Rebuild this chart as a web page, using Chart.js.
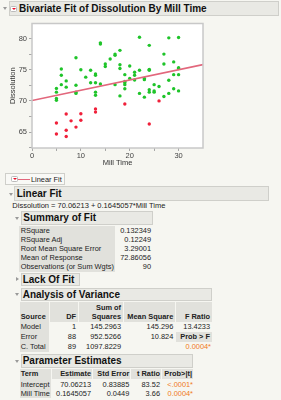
<!DOCTYPE html>
<html>
<head>
<meta charset="utf-8">
<script src="https://cdn.jsdelivr.net/npm/chart.js@4.4.1/dist/chart.umd.min.js"></script>
<style>
    body { margin: 0; width: 281px; height: 400px; background: #f6f6f1; font-family: "Liberation Sans", Arial, sans-serif; color: #222; position: relative; overflow: hidden; }
    .a { position: absolute; white-space: nowrap; font-size: 7.4px; line-height: 9px; }
    .box { position: absolute; background: #e9e9e4; border: 1px solid #cfcfca; box-sizing: border-box; }
    .hdr { position: absolute; white-space: nowrap; font-weight: bold; font-size: 10px; line-height: 12px; color: #111; }
    .g { position: absolute; background: #e1e1dc; }
    .tri-d { position: absolute; width: 0; height: 0; border-left: 2.5px solid transparent; border-right: 2.5px solid transparent; border-top: 3px solid #999; }
    .tri-r { position: absolute; width: 0; height: 0; border-top: 2.5px solid transparent; border-bottom: 2.5px solid transparent; border-left: 3px solid #999; }
    .menu { position: absolute; width: 7px; height: 6px; background: #fff; border: 1px solid #bbb; border-radius: 1.5px; box-sizing: border-box; }
    .menu::after { content: ''; position: absolute; left: 1px; top: 1.2px; border-left: 2px solid transparent; border-right: 2px solid transparent; border-top: 2.5px solid #e8102a; }
    canvas { position: absolute; left: 0; top: 17px; }
</style>
</head>
<body>
<canvas id="chart-fit" width="210" height="153"></canvas>
<script>
// Dissolution by Mill Time, colour by row state (green / red)
const greenMill = [5, 5, 5, 5, 6, 6, 6, 7, 7, 9, 9, 9, 9, 10, 11, 12, 12, 13, 13, 13, 13, 13,
    14, 14, 14, 15, 15, 16, 17, 17, 17, 18, 18, 18, 18, 19, 19, 19, 19, 19, 20, 20, 21, 21, 21,
    22, 22, 22, 23, 23, 23, 24, 24, 24, 24, 24, 25, 25, 25, 26, 27, 27, 27, 28, 28, 28,
    29, 29, 29, 30, 30, 30, 30, 30];
const greenDiss = [72.0, 71.4, 70.4, 70.1, 75.1, 74.1, 72.6, 73.2, 72.2, 76.9, 72.5, 71.4, 71.2, 75.0, 73.8, 74.9, 72.9, 74.3, 74.1, 72.9, 71.4, 70.9,
    79.3, 79.1, 72.7, 75.9, 75.5, 76.7, 77.5, 77.3, 72.6, 78.1, 75.8, 75.2, 70.8, 74.2, 73.1, 72.9, 72.6, 71.95, 75.6, 73.6, 74.6, 74.1, 73.35,
    80.2, 74.9, 71.2, 73.6, 73.4, 70.6, 78.9, 75.05, 74.9, 71.8, 71.4, 72.6, 71.6, 71.4, 72.3, 77.5, 75.9, 70.7, 80.1, 73.3, 71.2,
    76.25, 74.2, 71.95, 80.15, 75.3, 75.2, 74.2, 71.6];
const redMill = [5, 5, 7, 7, 7, 8, 9, 10, 10, 13, 13, 19, 24, 26];
const redDiss = [66.45, 64.7, 67.9, 65.3, 64.3, 66.8, 65.8, 67.95, 66.9, 68.7, 68.2, 69.5, 66.3, 70.0];

// fitted line end points (Linear Fit)
const fitMill = [0, 35];
const fitDiss = [70.06, 75.82];

const xTicks = [0, 5, 10, 15, 20, 25, 30];
const yTicks = [62.5, 65, 67.5, 70, 72.5, 75, 77.5, 80];

const pts = (xs, ys) => xs.map((x, i) => ({ x: x, y: ys[i] }));

const plotFrame = {
    id: 'plotFrame',
    beforeDraw(chart) {
        const { ctx, chartArea: a } = chart;
        ctx.save();
        ctx.fillStyle = '#ffffff';
        ctx.fillRect(a.left, a.top, a.right - a.left, a.bottom - a.top);
        ctx.restore();
    },
    afterDraw(chart) {
        const { ctx, chartArea: a } = chart;
        ctx.save();
        ctx.strokeStyle = '#c8c8c8';
        ctx.lineWidth = 1.5;
        ctx.strokeRect(a.left, a.top, a.right - a.left, a.bottom - a.top);
        ctx.restore();
    }
};

const tickFont = { family: '"Liberation Sans", Arial, sans-serif', size: 7.5 };

new Chart(document.getElementById('chart-fit').getContext('2d'), {
    type: 'scatter',
    data: {
        datasets: [
            {
                label: 'Linear Fit',
                type: 'line',
                data: pts(fitMill, fitDiss),
                borderColor: '#e2677c',
                borderWidth: 1.6,
                pointRadius: 0,
                order: 0
            },
            {
                data: pts(greenMill, greenDiss),
                backgroundColor: '#1fc42a',
                borderColor: '#1fc42a',
                pointRadius: 1.7,
                borderWidth: 0,
                order: 1
            },
            {
                data: pts(redMill, redDiss),
                backgroundColor: '#f0203a',
                borderColor: '#f0203a',
                pointRadius: 1.7,
                borderWidth: 0,
                order: 1
            }
        ]
    },
    options: {
        responsive: false,
        animation: false,
        layout: { padding: { top: 3.7, right: 7, left: 0, bottom: 0 } },
        plugins: { legend: { display: false }, tooltip: { enabled: false } },
        scales: {
            x: {
                type: 'linear', min: 0, max: 35,
                afterBuildTicks: axis => { axis.ticks = xTicks.map(v => ({ value: v })); },
                afterFit: axis => { axis.height = 22; },
                grid: { drawOnChartArea: false, tickLength: 3, color: '#a8a8a8' },
                border: { display: false },
                ticks: { color: '#444', font: tickFont, padding: 0, maxRotation: 0, autoSkip: false,
                    callback: v => (v % 10 === 0 ? v : '') },
                title: { display: true, text: 'Mill Time', color: '#333', font: tickFont, padding: { top: 0, bottom: 2.5 } }
            },
            y: {
                type: 'linear', min: 62.45, max: 82.4,
                afterBuildTicks: axis => { axis.ticks = yTicks.map(v => ({ value: v })); },
                afterFit: axis => { axis.width = 32; },
                grid: { drawOnChartArea: false, tickLength: 3, color: '#a8a8a8' },
                border: { display: false },
                ticks: { color: '#444', font: tickFont, padding: 2, autoSkip: false,
                    callback: v => (v % 5 === 0 && v !== 62.5 ? v : '') },
                title: { display: true, text: 'Dissolution', color: '#333', font: tickFont, padding: { top: 8.5, bottom: 0 } }
            }
        }
    },
    plugins: [plotFrame]
});

// ---- report outline around the plot ----
function box(x, y, w, h) {
    const d = document.createElement('div');
    d.className = 'box';
    Object.assign(d.style, { left: x + 'px', top: y + 'px', width: w + 'px', height: h + 'px' });
    document.body.appendChild(d);
}
function gray(x, y, w, h) {
    const d = document.createElement('div');
    d.className = 'g';
    Object.assign(d.style, { left: x + 'px', top: y + 'px', width: w + 'px', height: h + 'px' });
    document.body.appendChild(d);
}
function shape(cls, x, y) {
    const d = document.createElement('div');
    d.className = cls;
    Object.assign(d.style, { left: x + 'px', top: y + 'px' });
    document.body.appendChild(d);
}
function hdr(text, x, cy) {
    const d = document.createElement('div');
    d.className = 'hdr';
    d.textContent = text;
    Object.assign(d.style, { left: x + 'px', top: (cy - 6) + 'px' });
    document.body.appendChild(d);
}
// text centred on cy; anchor at left x, or at right x when right is true
function txt(text, x, cy, opt = {}) {
    const d = document.createElement('div');
    d.className = 'a';
    d.textContent = text;
    d.style.top = (cy - 4.5) + 'px';
    if (opt.right) d.style.right = (281 - x) + 'px';
    else d.style.left = x + 'px';
    if (opt.bold) d.style.fontWeight = 'bold';
    if (opt.color) d.style.color = opt.color;
    if (opt.size) d.style.fontSize = opt.size + 'px';
    document.body.appendChild(d);
}

const orange = '#f07a1a';

// title bar
shape('tri-d', 2.5, 6.5);
box(8.5, 1, 270, 15);
shape('menu', 10, 5.5);
hdr('Bivariate Fit of Dissolution By Mill Time', 19, 8.5);

// legend
const lg = document.createElement('div');
Object.assign(lg.style, { position: 'absolute', left: '5px', top: '173px', width: '60px', height: '12px',
    border: '1px solid #cfcfca', boxSizing: 'border-box', background: '#f9f9f6' });
document.body.appendChild(lg);
shape('menu', 11, 176);
const ln = document.createElement('div');
Object.assign(ln.style, { position: 'absolute', left: '18px', top: '178.5px', width: '12px', height: '1.6px', background: '#e2677c' });
document.body.appendChild(ln);
txt('Linear Fit', 31, 179);

// Linear Fit
shape('tri-d', 8.5, 192.5);
box(14, 186, 255, 15);
hdr('Linear Fit', 16.7, 193.5);
txt('Dissolution = 70.06213 + 0.1645057*Mill Time', 12.3, 205.3, { size: 7.5 });

// Summary of Fit
shape('tri-d', 14.5, 216.5);
box(21, 211, 132, 14);
hdr('Summary of Fit', 23.3, 218);
gray(19, 225.5, 96, 46);
const sumLabels = ['RSquare', 'RSquare Adj', 'Root Mean Square Error', 'Mean of Response', 'Observations (or Sum Wgts)'];
const sumValues = ['0.132349', '0.12249', '3.29001', '72.86056', '90'];
sumLabels.forEach((s, i) => {
    txt(s, 20.7, 230.7 + i * 9);
    txt(sumValues[i], 151, 230.7 + i * 9, { right: true });
});

// Lack Of Fit
shape('tri-r', 16, 276.5);
box(21, 273, 59, 13);
hdr('Lack Of Fit', 22.7, 279.5);

// Analysis of Variance
shape('tri-d', 14.5, 292.5);
box(21, 288, 191, 13);
hdr('Analysis of Variance', 22.7, 294.5);
const anovaCols = [[20, 29], [50, 28], [79, 44], [124, 51], [176, 36]];
anovaCols.forEach(c => gray(c[0], 302, c[1], 19.5));
gray(20, 322, 29, 29.5);
gray(176, 332, 36, 9.5);
txt('Source', 20.7, 316.7, { bold: true });
txt('DF', 76, 316.7, { right: true, bold: true });
txt('Sum of', 121, 307.3, { right: true, bold: true });
txt('Squares', 121, 316.7, { right: true, bold: true });
txt('Mean Square', 173.3, 316.7, { right: true, bold: true });
txt('F Ratio', 210, 316.7, { right: true, bold: true });
const anovaSrc = ['Model', 'Error', 'C. Total'];
const anovaDF = ['1', '88', '89'];
const anovaSS = ['145.2963', '952.5266', '1097.8229'];
const anovaMS = ['145.296', '10.824', ''];
anovaSrc.forEach((s, i) => {
    const cy = 326.7 + i * 10;
    txt(s, 20.7, cy);
    txt(anovaDF[i], 76, cy, { right: true });
    txt(anovaSS[i], 121, cy, { right: true });
    if (anovaMS[i]) txt(anovaMS[i], 173.3, cy, { right: true });
});
txt('13.4233', 210, 326.7, { right: true });
txt('Prob > F', 210, 336.7, { right: true, bold: true });
txt('0.0004*', 211, 346.7, { right: true, color: orange });

// Parameter Estimates
shape('tri-d', 14.5, 359.5);
box(21, 354, 172, 13.5);
hdr('Parameter Estimates', 22.7, 361);
const peCols = [[20, 31], [52, 40], [93, 37], [131, 30], [162, 31]];
peCols.forEach(c => gray(c[0], 368.5, c[1], 10));
gray(20, 379, 31, 19);
txt('Term', 20.7, 373.5, { bold: true });
txt('Estimate', 91, 373.5, { right: true, bold: true });
txt('Std Error', 129.3, 373.5, { right: true, bold: true });
txt('t Ratio', 160, 373.5, { right: true, bold: true });
txt('Prob>|t|', 192, 373.5, { right: true, bold: true });
const peTerm = ['Intercept', 'Mill Time'];
const peEst = ['70.06213', '0.1645057'];
const peSE = ['0.83885', '0.0449'];
const peT = ['83.52', '3.66'];
const peP = ['<.0001*', '0.0004*'];
peTerm.forEach((s, i) => {
    const cy = 384 + i * 9.3;
    txt(s, 20.7, cy);
    txt(peEst[i], 91, cy, { right: true });
    txt(peSE[i], 129.3, cy, { right: true });
    txt(peT[i], 160, cy, { right: true });
    txt(peP[i], 193, cy, { right: true, color: orange });
});
</script>
</body>
</html>
